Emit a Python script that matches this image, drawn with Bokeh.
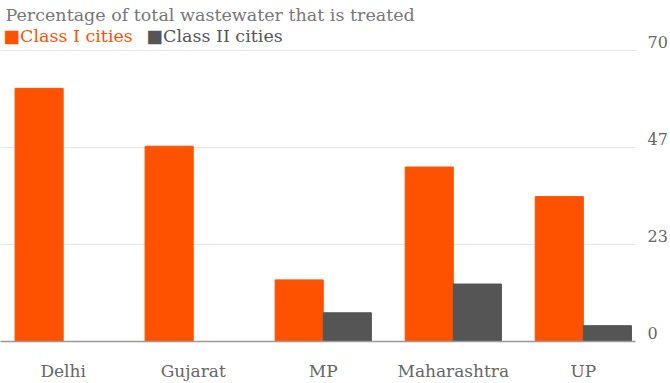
from bokeh.plotting import figure
from bokeh.models import Range1d, FixedTicker, LinearAxis, Label, ColumnDataSource
from bokeh.embed import file_html
from bokeh.resources import INLINE

states = ["Delhi", "Gujarat", "MP", "Maharashtra", "UP"]
class_i = [60.8, 46.9, 14.8, 41.9, 34.8]
class_ii = [0.0, 0.0, 6.9, 13.8, 3.8]
y_ticks = [0, 70 / 3, 140 / 3, 70]
y_tick_labels = ["0", "23", "47", "70"]

ORANGE = "#ff5200"
GRAY = "#555555"
FONT = "DejaVu Serif"

idx = list(range(len(states)))
src = ColumnDataSource(dict(
    x1=[i - 0.185 for i in idx],
    x2=[i + 0.185 for i in idx],
    c1=class_i,
    c2=class_ii,
))

p = figure(width=670, height=383, output_backend="svg", toolbar_location=None,
           x_range=Range1d(-0.482, 4.401), y_range=Range1d(0, 81.9),
           min_border_left=0, min_border_top=0, min_border_right=22,
           min_border_bottom=39, y_axis_location=None)
p.outline_line_color = None
p.background_fill_color = "white"
p.border_fill_color = "white"

p.vbar(x="x1", top="c1", width=0.37, source=src, color=ORANGE)
p.vbar(x="x2", top="c2", width=0.37, source=src, color=GRAY)

# x axis
xa = p.xaxis[0]
xa.ticker = FixedTicker(ticks=idx)
xa.major_label_overrides = {i: s for i, s in zip(idx, states)}
xa.major_tick_line_color = None
xa.minor_tick_line_color = None
xa.axis_line_color = "#999999"
xa.axis_line_width = 1.5
xa.major_label_standoff = 13
xa.major_label_text_font = FONT
xa.major_label_text_font_size = "17px"
xa.major_label_text_color = "#666666"

# right y axis: labels sit slightly above their gridlines
label_lift = 2.0
label_ticks = [t + label_lift for t in y_ticks]
ya = LinearAxis(ticker=FixedTicker(ticks=label_ticks))
ya.major_label_overrides = {t: l for t, l in zip(label_ticks, y_tick_labels)}
ya.axis_line_color = None
ya.major_tick_line_color = None
ya.minor_tick_line_color = None
ya.major_label_standoff = 6
ya.major_label_text_font = FONT
ya.major_label_text_font_size = "16px"
ya.major_label_text_color = "#666666"
ya.major_label_text_align = "left"
p.add_layout(ya, "right")

p.xgrid.grid_line_color = None
p.ygrid.grid_line_color = "#e6e6e6"
p.ygrid.ticker = FixedTicker(ticks=y_ticks)

p.add_layout(Label(x=5, y=327, x_units="screen", y_units="screen",
                   text="Percentage of total wastewater that is treated",
                   text_font=FONT, text_font_size="17.5px", text_color="#777777",
                   text_baseline="middle"))
p.add_layout(Label(x=3, y=306, x_units="screen", y_units="screen",
                   text="\u25a0Class I cities",
                   text_font=FONT, text_font_size="17.5px", text_color=ORANGE,
                   text_baseline="middle"))
p.add_layout(Label(x=146, y=306, x_units="screen", y_units="screen",
                   text="\u25a0Class II cities",
                   text_font=FONT, text_font_size="17.5px", text_color="#555555",
                   text_baseline="middle"))

open("out.html", "w").write(file_html(p, INLINE))
